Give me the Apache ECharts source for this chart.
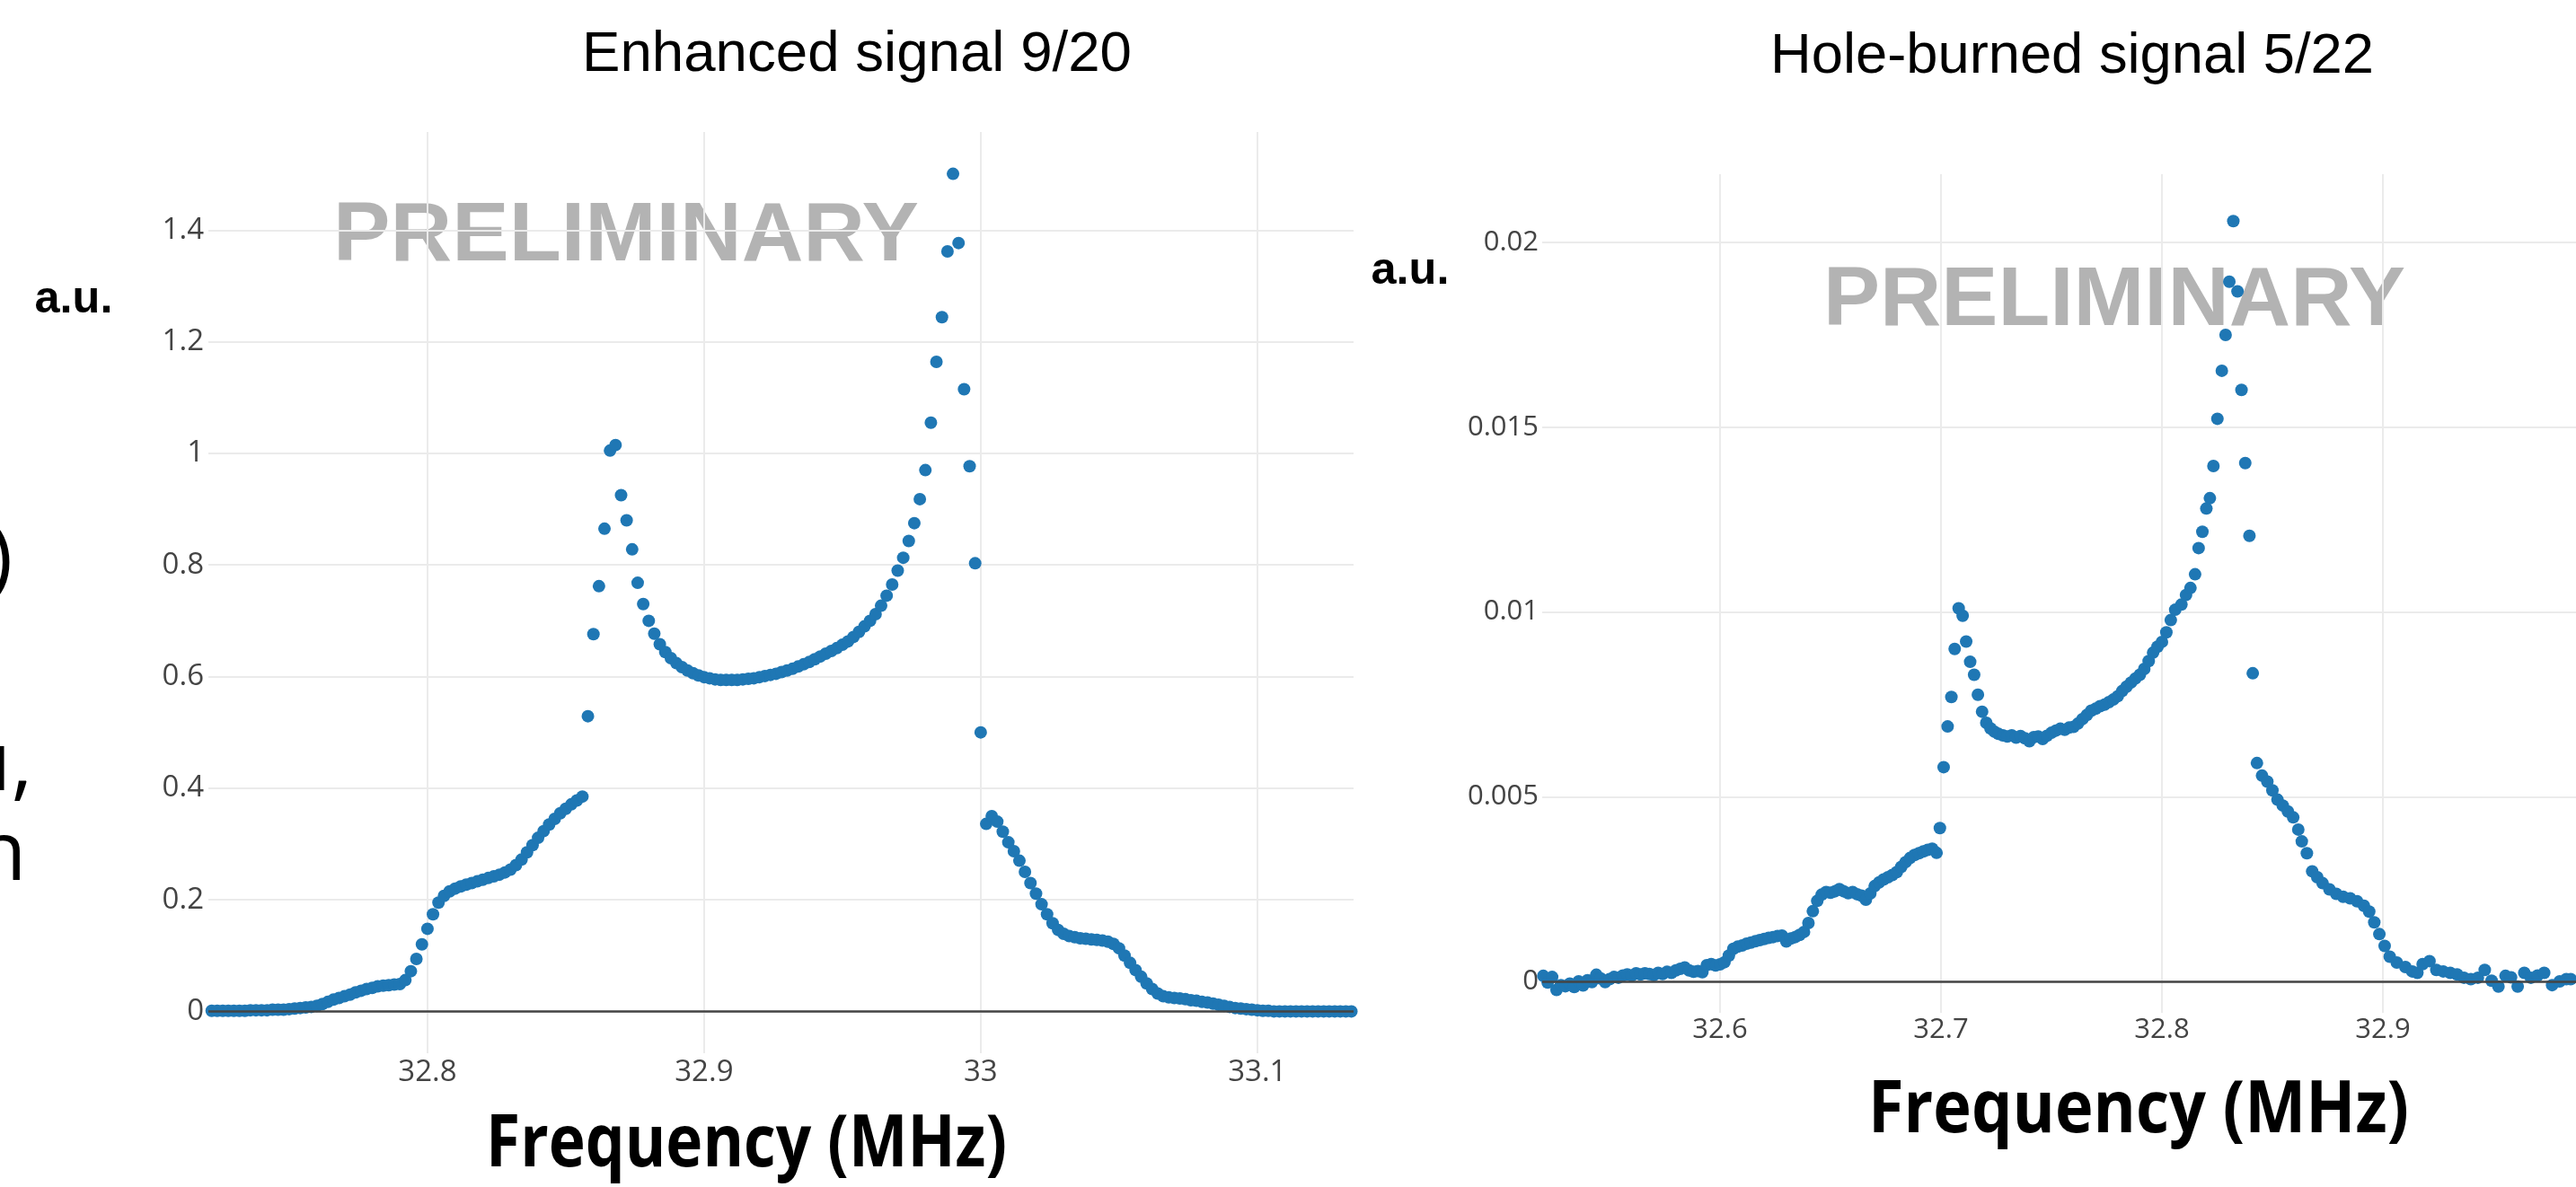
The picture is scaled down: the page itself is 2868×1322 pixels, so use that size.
<!DOCTYPE html>
<html>
<head>
<meta charset="utf-8">
<title>Enhanced and hole-burned signals</title>
<script src="https://cdn.jsdelivr.net/npm/echarts@6/dist/echarts.min.js"></script>
<style>
  html, body { margin: 0; padding: 0; background: #ffffff; }
  #chart { width: 2868px; height: 1322px; }
</style>
</head>
<body>
<div id="chart"></div>
<script>
// Enhanced signal (9/20): frequency in MHz, signal in a.u.
const enhancedFreq = [
  32.720,32.722,32.724,32.726,32.728,32.730,32.732,32.734,32.736,32.738,
  32.740,32.742,32.744,32.746,32.748,32.750,32.752,32.754,32.756,32.758,
  32.760,32.762,32.764,32.766,32.768,32.770,32.772,32.774,32.776,32.778,
  32.780,32.782,32.784,32.786,32.788,32.790,
  32.792,32.794,32.796,32.798,32.800,32.802,32.804,32.806,32.808,32.810,
  32.812,32.814,32.816,32.818,32.820,32.822,32.824,32.826,32.828,32.830,
  32.832,32.834,32.836,32.838,32.840,32.842,32.844,32.846,32.848,32.850,
  32.852,32.854,32.856,
  32.858,32.860,32.862,32.864,32.866,32.868,32.870,32.872,32.874,32.876,32.878,32.880,
  32.882,32.884,32.886,32.888,32.890,32.892,32.894,32.896,32.898,32.900,
  32.902,32.904,32.906,32.908,32.910,32.912,32.914,32.916,32.918,32.920,
  32.922,32.924,32.926,32.928,32.930,32.932,32.934,32.936,32.938,32.940,
  32.942,32.944,32.946,32.948,
  32.950,32.952,32.954,32.956,32.958,32.960,32.962,32.964,32.966,32.968,
  32.970,32.972,32.974,32.976,32.978,32.980,32.982,32.984,32.986,32.988,
  32.990,32.992,32.994,32.996,32.998,33.000,
  33.002,33.004,33.006,33.008,33.010,33.012,33.014,33.016,33.018,33.020,
  33.022,33.024,33.026,33.028,33.030,33.032,33.034,33.036,33.038,33.040,
  33.042,33.044,33.046,33.048,33.050,33.052,33.054,33.056,33.058,33.060,
  33.062,33.064,33.066,33.068,33.070,33.072,33.074,33.076,33.078,33.080,
  33.082,33.084,33.086,33.088,33.090,33.092,33.094,33.096,33.098,33.100,
  33.102,33.104,33.106,33.108,33.110,33.112,33.114,33.116,33.118,33.120,
  33.122,33.124,33.126,33.128,33.130,33.132,33.134,33.136
];
const enhancedSignal = [
  0.001,0.001,0.001,0.001,0.001,0.001,0.001,0.001,0.002,0.002,
  0.002,0.002,0.003,0.003,0.003,0.004,0.005,0.006,0.007,0.008,
  0.010,0.013,0.017,0.021,0.024,0.027,0.030,0.034,0.037,0.040,
  0.042,0.045,0.046,0.047,0.048,0.049,
  0.056,0.072,0.094,0.120,0.148,0.174,0.195,0.207,0.215,0.220,
  0.224,0.227,0.230,0.233,0.236,0.239,0.242,0.245,0.249,0.254,
  0.262,0.272,0.285,0.298,0.311,0.323,0.335,0.345,0.355,0.363,
  0.371,0.378,0.385,
  0.529,0.676,0.762,0.865,1.005,1.015,0.925,0.880,0.828,0.768,0.730,0.700,
  0.677,0.658,0.644,0.633,0.624,0.617,0.611,0.606,0.602,0.599,
  0.597,0.595,0.594,0.594,0.594,0.594,0.595,0.596,0.597,0.599,
  0.601,0.603,0.605,0.608,0.611,0.614,0.618,0.622,0.626,0.631,
  0.636,0.641,0.646,0.651,
  0.657,0.663,0.671,0.680,0.690,0.700,0.712,0.727,0.745,0.765,
  0.790,0.813,0.843,0.875,0.918,0.970,1.055,1.164,1.244,1.362,
  1.501,1.377,1.115,0.977,0.803,0.500,
  0.336,0.350,0.340,0.322,0.303,0.287,0.270,0.250,0.230,0.211,
  0.192,0.174,0.158,0.146,0.139,0.135,0.133,0.131,0.130,0.129,
  0.128,0.127,0.125,0.121,0.113,0.100,0.087,0.074,0.062,0.050,
  0.040,0.032,0.027,0.025,0.024,0.023,0.022,0.020,0.019,0.017,
  0.016,0.014,0.012,0.010,0.008,0.006,0.005,0.004,0.003,0.002,
  0.001,0.001,0.000,0.000,0.000,0.000,0.000,0.000,0.000,0.000,
  0.000,0.000,0.000,0.000,0.000,0.000,0.000,0.000
];

// Hole-burned signal (5/22): frequency in MHz, signal in a.u.
const holeFreq = [
  32.520,32.522,32.524,32.526,32.528,32.530,32.532,32.534,32.536,32.538,
  32.540,32.542,32.544,32.546,32.548,32.550,32.552,32.554,32.556,32.558,
  32.560,32.562,32.564,32.566,32.568,32.570,32.572,32.574,32.576,32.578,
  32.580,32.582,32.584,32.586,32.588,32.590,32.592,32.594,32.596,32.598,
  32.600,32.602,32.604,32.606,32.608,32.610,32.612,32.614,32.616,32.618,
  32.620,32.622,32.624,32.626,32.628,32.630,32.632,32.634,32.636,32.638,
  32.640,32.642,32.644,32.646,32.648,32.650,32.652,32.654,32.656,32.658,
  32.660,32.662,32.664,32.666,32.668,32.670,32.672,32.674,32.676,32.678,
  32.680,32.682,32.684,32.686,32.688,32.690,32.692,32.694,32.696,32.698,
  32.6995,32.7012,32.7030,32.7047,32.7062,32.7080,32.7098,32.7114,32.7132,32.7150,
  32.7167,32.7186,32.7205,32.7224,32.7242,
  32.726,32.728,32.730,32.732,32.734,32.736,32.738,32.740,32.742,32.744,
  32.746,32.748,32.750,32.752,32.754,32.756,32.758,32.760,32.762,32.764,
  32.766,32.768,32.770,32.772,32.774,32.776,32.778,32.780,32.782,32.784,
  32.786,32.788,32.790,32.792,32.794,32.796,32.798,32.800,32.802,32.804,
  32.806,
  32.8088,32.8109,32.8129,32.8150,32.8166,32.8183,32.8201,32.8217,32.8233,32.8251,
  32.8271,32.8288,32.8305,32.8323,32.8342,32.8360,32.8377,32.8396,32.8411,32.8430,
  32.8453,32.8477,32.8500,32.8523,32.8547,32.8570,32.8594,32.8617,32.8633,32.8656,
  32.8680,32.8703,32.8727,32.8758,32.8789,32.8820,32.8852,32.8883,32.8914,32.8938,
  32.8961,32.8984,32.9008,32.9031,32.9063,32.9102,32.9133,32.9156,32.9180,32.9211,
  32.9242,32.9273,32.9305,32.9336,32.9367,32.9398,32.9430,32.9461,32.9492,32.9523,
  32.9555,32.9580,32.9610,32.9640,32.9670,32.9700,32.9730,32.9766,32.9800,32.9830,
  32.9850,32.9880
];
const holeSignal = [
  0.00015,-0.00003,0.00012,-0.00023,-0.00010,-0.00013,-0.00006,-0.00015,0.00000,-0.00011,
  0.00003,-0.00002,0.00018,0.00008,-0.00002,0.00006,0.00012,0.00010,0.00016,0.00019,
  0.00016,0.00022,0.00019,0.00022,0.00020,0.00017,0.00023,0.00020,0.00026,0.00023,
  0.00030,0.00034,0.00038,0.00030,0.00026,0.00028,0.00025,0.00044,0.00047,0.00043,
  0.00046,0.00052,0.00070,0.00088,0.00094,0.00097,0.00102,0.00105,0.00109,0.00112,
  0.00115,0.00118,0.00120,0.00123,0.00124,0.00108,0.00116,0.00120,0.00126,0.00134,
  0.00158,0.00190,0.00218,0.00235,0.00242,0.00240,0.00244,0.00250,0.00244,0.00239,
  0.00242,0.00236,0.00232,0.00221,0.00238,0.00258,0.00268,0.00276,0.00282,0.00288,
  0.00296,0.00310,0.00323,0.00334,0.00342,0.00347,0.00352,0.00356,0.00359,0.00348,
  0.00415,0.00580,0.00690,0.00770,0.00900,0.01010,0.00990,0.00920,0.00865,0.00830,
  0.00776,0.00730,0.00700,0.00685,0.00676,
  0.00670,0.00666,0.00663,0.00666,0.00660,0.00664,0.00658,0.00650,0.00661,0.00663,
  0.00656,0.00665,0.00673,0.00679,0.00684,0.00681,0.00687,0.00689,0.00698,0.00710,
  0.00721,0.00733,0.00738,0.00745,0.00749,0.00756,0.00763,0.00772,0.00786,0.00798,
  0.00809,0.00820,0.00830,0.00846,0.00867,0.00890,0.00906,0.00919,0.00945,0.00978,
  0.01006,
  0.01020,0.01046,0.01065,0.01102,0.01173,0.01217,0.01280,0.01308,0.01395,0.01523,
  0.01653,0.01750,0.01894,0.02058,0.01868,0.01601,0.01403,0.01206,0.00834,0.00591,
  0.00557,0.00541,0.00517,0.00492,0.00476,0.00460,0.00444,0.00411,0.00379,0.00347,
  0.00298,0.00282,0.00266,0.00249,0.00237,0.00229,0.00225,0.00217,0.00205,0.00189,
  0.00160,0.00128,0.00096,0.00067,0.00051,0.00039,0.00027,0.00023,0.00047,0.00055,
  0.00031,0.00027,0.00023,0.00019,0.00010,0.00006,0.00010,0.00031,0.00002,-0.00014,
  0.00015,0.00011,-0.00014,0.00023,0.00010,0.00016,0.00023,-0.00010,0.00000,0.00006,
  0.00006,0.00000
];

// Axis ticks
const enhancedXTicks = [32.8, 32.9, 33.0, 33.1];
const enhancedYTicks = [0, 0.2, 0.4, 0.6, 0.8, 1.0, 1.2, 1.4];
const holeXTicks = [32.6, 32.7, 32.8, 32.9];
const holeYTicks = [0, 0.005, 0.01, 0.015, 0.02];

// Panel titles and annotation text
const panelTitles = ['Enhanced signal 9/20', 'Hole-burned signal 5/22'];
const axisTitle = 'Frequency (MHz)';
const unitLabel = 'a.u.';
const stampText = 'PRELIMINARY';

const zip = (xs, ys) => xs.map((x, i) => [x, ys[i]]);
const fmt = (digits) => (v) => String(Math.round(v * digits) / digits);

const measureCtx = document.createElement('canvas').getContext('2d');
function widthScale(text, font, width) {
  measureCtx.font = font;
  return width / measureCtx.measureText(text).width;
}
function textEl(text, cx, cy, font, fill, width, align) {
  return {
    type: 'text',
    x: cx,
    y: cy,
    scaleX: width ? widthScale(text, font, width) : 1,
    silent: true,
    style: {
      text: text, x: 0, y: 0, font: font, fill: fill,
      align: align || 'center', verticalAlign: 'middle',
      textAlign: align || 'center', textVerticalAlign: 'middle'
    }
  };
}

const gridLine = { show: true, lineStyle: { color: '#ebebeb', width: 2 } };
const tickFont = '"Open Sans", "DejaVu Sans", sans-serif';

function xAxisFor(gridIndex, min, max, ticks, size, margin) {
  return {
    type: 'value', gridIndex: gridIndex, min: min, max: max,
    axisLine: { show: false },
    axisTick: { show: false, customValues: ticks },
    axisLabel: { customValues: ticks, color: '#444', fontSize: size, fontFamily: tickFont,
                 margin: margin, formatter: fmt(10) },
    splitLine: gridLine
  };
}
function yAxisFor(gridIndex, min, max, ticks, size, margin, digits) {
  return {
    type: 'value', gridIndex: gridIndex, min: min, max: max,
    axisLine: { show: false },
    axisTick: { show: false, customValues: ticks },
    axisLabel: { customValues: ticks, color: '#444', fontSize: size, fontFamily: tickFont,
                 margin: margin, formatter: fmt(digits) },
    splitLine: gridLine
  };
}

const zeroLine = {
  silent: true, symbol: 'none', animation: false,
  label: { show: false },
  lineStyle: { color: '#444', width: 2.5, type: 'solid' },
  data: [{ yAxis: 0 }]
};

const titleFont = '63px "Liberation Sans", Arial, sans-serif';
const stampFont = 'bold 92px "Liberation Sans", Arial, sans-serif';
const unitFont = 'bold 50px "Liberation Sans", Arial, sans-serif';
const axisTitleFont = 'bold 80px "Open Sans", "Liberation Sans", sans-serif';
const slideFont = '92px "Open Sans", "DejaVu Sans", sans-serif';

const chart = echarts.init(document.getElementById('chart'), null, { renderer: 'canvas' });

chart.setOption({
  animation: false,
  backgroundColor: '#ffffff',
  grid: [
    { left: 232, top: 147, width: 1275, height: 1026 },
    { left: 1717, top: 194, width: 1151, height: 934 }
  ],
  xAxis: [
    xAxisFor(0, 32.7208, 33.1348, enhancedXTicks, 33, 5),
    xAxisFor(1, 32.5195, 32.9874, holeXTicks, 31, 4)
  ],
  yAxis: [
    yAxisFor(0, -0.075, 1.576, enhancedYTicks, 33, 5, 10),
    yAxisFor(1, -0.00085, 0.02185, holeYTicks, 31, 4, 1000)
  ],
  series: [
    {
      name: panelTitles[0], type: 'scatter', xAxisIndex: 0, yAxisIndex: 0,
      data: zip(enhancedFreq, enhancedSignal), symbol: 'circle', symbolSize: 14,
      itemStyle: { color: '#1f77b4', opacity: 1 }, markLine: zeroLine
    },
    {
      name: panelTitles[1], type: 'scatter', xAxisIndex: 1, yAxisIndex: 1,
      data: zip(holeFreq, holeSignal), symbol: 'circle', symbolSize: 14,
      itemStyle: { color: '#1f77b4', opacity: 1 }, markLine: zeroLine
    }
  ],
  graphic: [
    textEl(panelTitles[0], 954, 62, titleFont, '#000', 612),
    textEl(panelTitles[1], 2307, 64, titleFont, '#000', 672),
    textEl(stampText, 697, 265, stampFont, '#b3b3b3', 652),
    textEl(stampText, 2354, 337, stampFont, '#b3b3b3', 648),
    textEl(unitLabel, 82, 334, unitFont, '#000', 87),
    textEl(unitLabel, 1570, 302, unitFont, '#000', 87),
    textEl(axisTitle, 831, 1276, axisTitleFont, '#000', 580),
    textEl(axisTitle, 2381, 1238, axisTitleFont, '#000', 602),
    // tail ends of the slide text lines beside the left panel
    textEl(')', -13, 625, slideFont, '#000', 0, 'left'),
    textEl('u,', -44, 854, slideFont, '#000', 0, 'left'),
    textEl('n', -27, 954, slideFont, '#000', 0, 'left')
  ]
});
</script>
</body>
</html>
